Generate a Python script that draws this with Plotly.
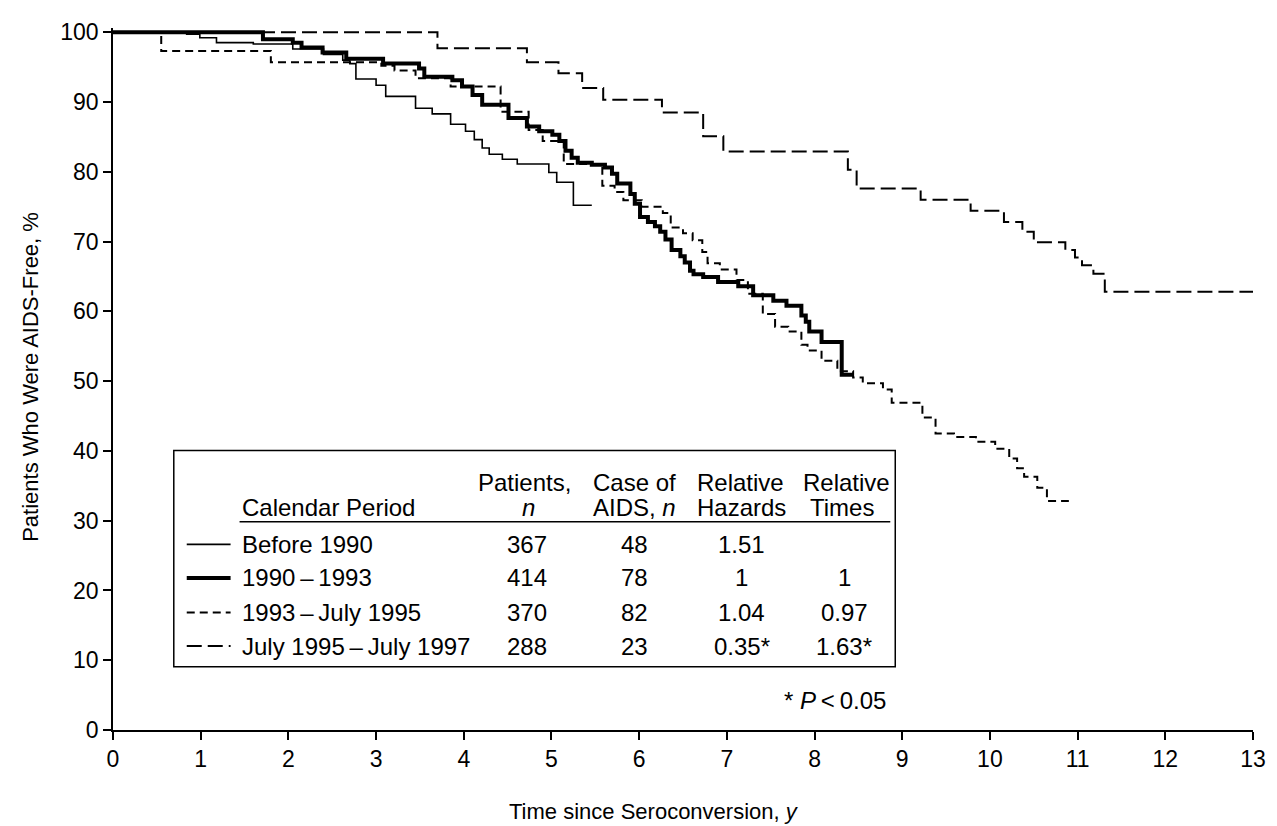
import plotly.graph_objects as go

# ---------------- data ----------------
x_ticks = list(range(0, 14))
y_ticks = list(range(0, 101, 10))

before1990_t = [0, 0.84, 0.99, 1.18, 1.60, 2.05, 2.40, 2.62, 2.70, 2.77, 3.00, 3.11, 3.45, 3.64,
                3.85, 4.02, 4.12, 4.21, 4.29, 4.44, 4.61, 4.97, 5.06, 5.25]
before1990_s = [100, 99.7, 99.2, 98.5, 98.3, 97.6, 96.8, 96.0, 95.5, 93.3, 92.4, 90.8, 89.1, 88.3,
                86.8, 85.8, 84.6, 83.4, 82.5, 81.8, 81.1, 79.9, 78.5, 75.2]
before1990_end = 5.46

p1990_t = [0, 1.71, 2.05, 2.15, 2.39, 2.66, 3.08, 3.49, 3.55, 3.87, 3.98, 4.10, 4.21, 4.51, 4.72,
           4.86, 5.01, 5.09, 5.16, 5.23, 5.30, 5.46, 5.61, 5.69, 5.75, 5.90, 5.95, 6.01, 6.10, 6.18,
           6.24, 6.30, 6.37, 6.47, 6.52, 6.58, 6.62, 6.73, 6.90, 7.13, 7.30, 7.53, 7.68, 7.85, 7.90,
           7.94, 8.08, 8.31]
p1990_s = [100, 99.0, 98.5, 97.8, 97.1, 96.2, 95.5, 94.8, 93.6, 93.1, 92.2, 91.0, 89.6, 87.7, 86.5,
           85.8, 85.3, 84.4, 83.0, 82.0, 81.3, 81.0, 80.6, 79.7, 78.3, 76.8, 75.4, 73.5, 72.8, 72.2,
           71.4, 70.3, 68.8, 67.9, 67.0, 65.8, 65.3, 64.9, 64.2, 63.6, 62.3, 61.5, 60.8, 59.4, 58.5,
           57.1, 55.6, 50.9]
p1990_end = 8.45

p1993_t = [0, 0.55, 1.80, 3.06, 3.21, 3.45, 3.85, 4.42, 4.74, 4.90, 5.14, 5.58, 5.72, 5.82, 6.03,
           6.27, 6.36, 6.50, 6.61, 6.72, 6.78, 6.92, 7.11, 7.24, 7.41, 7.55, 7.70, 7.85, 7.92, 8.08,
           8.26, 8.44, 8.55, 8.78, 8.88, 9.23, 9.38, 9.59, 9.84, 10.06, 10.22, 10.31, 10.39, 10.54,
           10.65]
p1993_s = [100, 97.3, 95.7, 95.2, 94.5, 93.4, 92.2, 88.6, 86.0, 84.4, 81.1, 78.0, 77.1, 75.9, 75.0,
           74.1, 72.0, 71.2, 70.2, 68.5, 66.9, 66.0, 64.5, 62.5, 59.6, 57.8, 57.1, 55.2, 54.4, 52.9,
           51.4, 50.5, 49.7, 48.8, 46.9, 44.8, 42.5, 42.0, 41.3, 40.3, 38.9, 37.5, 36.3, 34.7,
           32.8]
p1993_end = 10.90

p1995_t = [0, 3.70, 4.72, 5.08, 5.35, 5.59, 6.26, 6.73, 6.96, 8.38, 8.48, 9.21, 9.78, 10.16, 10.37,
           10.50, 10.86, 10.97, 11.05, 11.18, 11.31]
p1995_s = [100, 97.7, 95.7, 94.1, 92.0, 90.3, 88.5, 85.1, 82.9, 80.3, 77.6, 76.0, 74.4, 72.8, 71.4,
           69.9, 68.8, 67.7, 66.6, 65.4, 62.8]
p1995_end = 13.0

periods = ["Before 1990", "1990\u2009\u2013\u20091993", "1993\u2009\u2013\u2009July 1995",
           "July 1995\u2009\u2013\u2009July 1997"]
patients_n = ["367", "414", "370", "288"]
aids_n = ["48", "78", "82", "23"]
rel_hazards = ["1.51", "1", "1.04", "0.35*"]
rel_times = ["", "1", "0.97", "1.63*"]

# ---------------- layout (page body adds an 8px margin top/left) ----------------
OFF = 8
W, H = 1277 - OFF, 826 - OFF
L, R, T, B = 105, 20, 11, 96
PW, PH = W - L - R, H - T - B
FONT = "Liberation Sans, Arial, Helvetica, sans-serif"

styles = [
    dict(color="black", width=1.6),
    dict(color="black", width=4),
    dict(color="black", width=2, dash="8px,5px"),
    dict(color="black", width=2, dash="15px,6px"),
]


def xp(px):
    """screen pixel x -> paper coordinate"""
    return (px - OFF - L) / PW


def yp(py):
    """screen pixel y -> paper coordinate"""
    return (H - B - (py - OFF)) / PH


fig = go.Figure()
curves = [
    (before1990_t, before1990_s, before1990_end),
    (p1990_t, p1990_s, p1990_end),
    (p1993_t, p1993_s, p1993_end),
    (p1995_t, p1995_s, p1995_end),
]
for (t, s, end), st, name in zip(curves, styles, periods):
    fig.add_trace(go.Scatter(
        x=list(t) + [end], y=list(s) + [s[-1]], mode="lines",
        line=dict(shape="hv", **st), name=name, showlegend=False,
        hoverinfo="skip"))

axis_common = dict(showline=True, linecolor="black", linewidth=1.5, ticks="outside",
                   ticklen=8, tickwidth=1.5, tickcolor="black", showgrid=False,
                   zeroline=False, ticklabeloverflow="allow",
                   tickfont=dict(size=23, family=FONT, color="black"))
fig.update_layout(
    width=W, height=H,
    margin=dict(l=L, r=R, t=T, b=B),
    paper_bgcolor="white", plot_bgcolor="white",
    font=dict(family=FONT, size=22, color="black"),
    showlegend=False,
    xaxis=dict(range=[0, 13], tickvals=x_ticks, ticktext=[str(v) for v in x_ticks],
               **axis_common),
    yaxis=dict(range=[0, 100.6], tickvals=y_ticks, ticktext=[str(v) for v in y_ticks],
               **axis_common),
)

ann = []
# axis titles
ann.append(dict(x=xp(656), y=yp(813), xref="paper", yref="paper",
                text="Time since Seroconversion, <i>y</i>", showarrow=False,
                xanchor="center", yanchor="middle", font=dict(size=22)))
ann.append(dict(x=xp(30), y=yp(372), xref="paper", yref="paper",
                text="Patients Who Were AIDS-Free, %", showarrow=False, textangle=-90,
                xanchor="center", yanchor="middle", font=dict(size=22)))

# legend table
shapes = [
    dict(type="rect", xref="paper", yref="paper", x0=xp(174), x1=xp(898), y0=yp(666), y1=yp(447),
         line=dict(color="black", width=1.5), fillcolor="white", layer="above"),
    dict(type="line", xref="paper", yref="paper", x0=xp(240), x1=xp(893), y0=yp(519), y1=yp(519),
         line=dict(color="black", width=1.5)),
]
col_p, col_a, col_h, col_t = 528, 636, 744, 847
hdr1, hdr2 = 479, 505
fs = 24
for txt, cx, cy in [("Patients,", col_p - 2, hdr1), ("<i>n</i>", col_p + 2, hdr2),
                    ("Case of", col_a, hdr1), ("AIDS, <i>n</i>", col_a, hdr2),
                    ("Relative", col_h - 1, hdr1), ("Hazards", col_h, hdr2),
                    ("Relative", col_t + 2, hdr1), ("Times", col_t - 2, hdr2)]:
    ann.append(dict(x=xp(cx), y=yp(cy), xref="paper", yref="paper", text=txt,
                    showarrow=False, xanchor="center", yanchor="middle", font=dict(size=fs)))
ann.append(dict(x=xp(240), y=yp(hdr2), xref="paper", yref="paper", text="Calendar Period",
                showarrow=False, xanchor="left", yanchor="middle", font=dict(size=fs)))

rows_y = [542, 576, 611, 645]
for i, ry in enumerate(rows_y):
    st = styles[i]
    shapes.append(dict(type="line", xref="paper", yref="paper", x0=xp(187), x1=xp(231),
                       y0=yp(ry), y1=yp(ry),
                       line=dict(color="black", width=st["width"], dash=st.get("dash", "solid"))))
    ann.append(dict(x=xp(240), y=yp(ry), xref="paper", yref="paper", text=periods[i],
                    showarrow=False, xanchor="left", yanchor="middle", font=dict(size=fs)))
    for txt, cx in [(patients_n[i], col_p), (aids_n[i], col_a), (rel_hazards[i], col_h),
                    (rel_times[i], col_t)]:
        if txt:
            ann.append(dict(x=xp(cx), y=yp(ry), xref="paper", yref="paper", text=txt,
                            showarrow=False, xanchor="center", yanchor="middle",
                            font=dict(size=fs)))

ann.append(dict(x=xp(891), y=yp(700), xref="paper", yref="paper",
                text="* <i>P</i>\u2009&lt;\u20090.05", showarrow=False,
                xanchor="right", yanchor="middle", font=dict(size=fs)))

fig.update_layout(annotations=ann, shapes=shapes)
fig.write_html("out.html")
